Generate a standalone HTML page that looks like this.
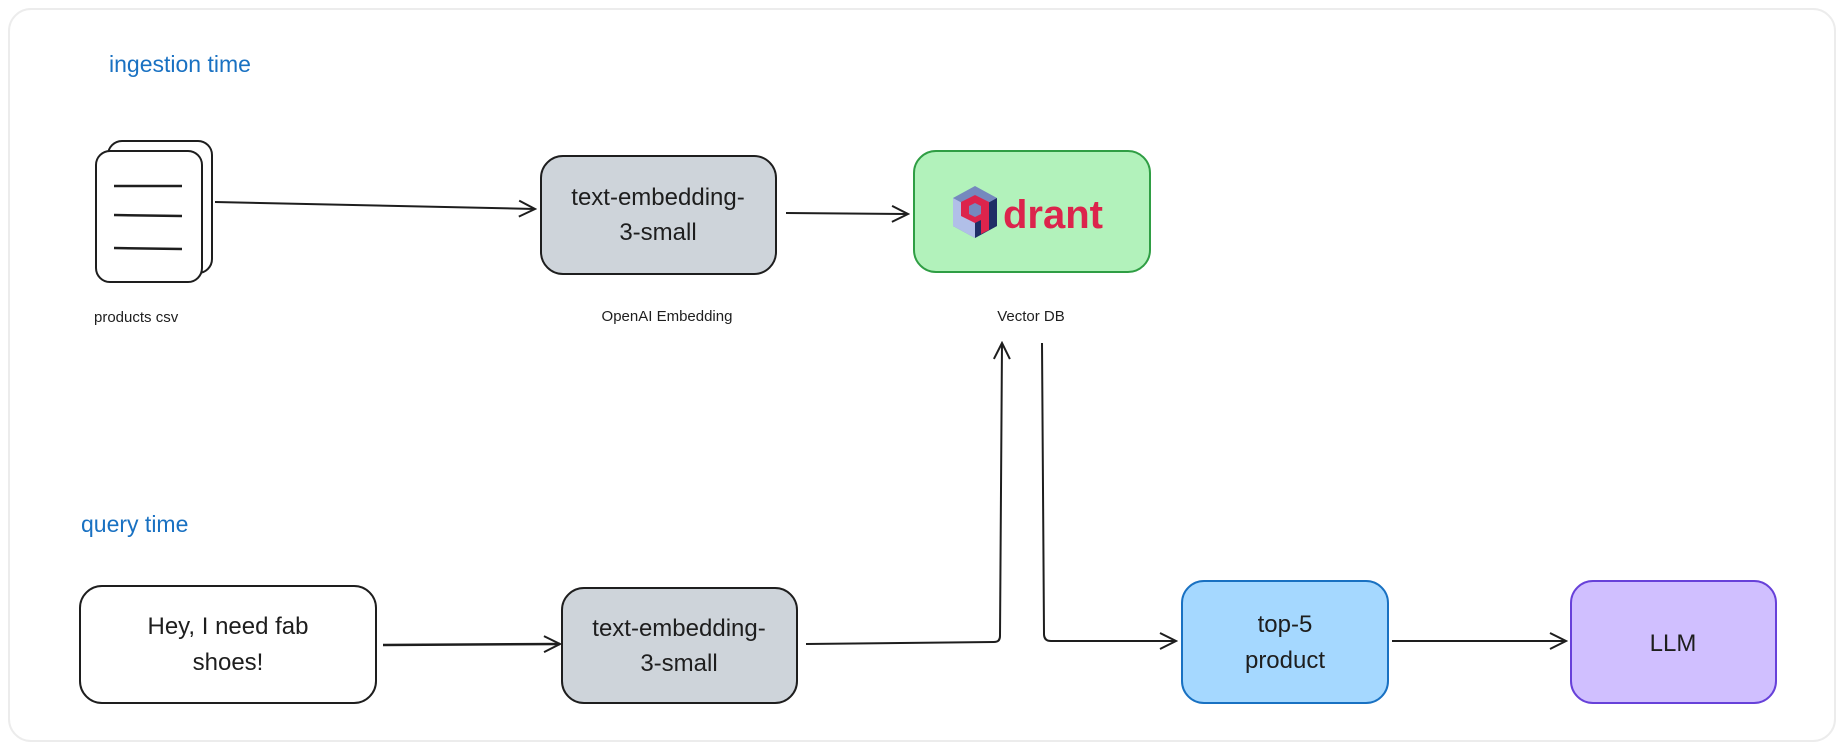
<!DOCTYPE html>
<html><head><meta charset="utf-8"><style>
html,body{margin:0;padding:0;background:#fff;}
svg{display:block;}
text{font-family:"Liberation Sans",sans-serif;}
</style></head><body>
<svg width="1844" height="750" viewBox="0 0 1844 750" xmlns="http://www.w3.org/2000/svg">
<defs>
<marker id="ah" markerWidth="20" markerHeight="20" refX="18" refY="10" orient="auto" markerUnits="userSpaceOnUse">
<path d="M2,2 L18,10 L2,18" fill="none" stroke="#1e1e1e" stroke-width="2"/>
</marker>
</defs>
<rect x="9" y="9" width="1826" height="732" rx="22" fill="#fff" stroke="#ececec" stroke-width="2"/>

<text x="109" y="72" font-size="23" fill="#1971c2">ingestion time</text>
<text x="81" y="532" font-size="23" fill="#1971c2">query time</text>

<!-- document icon -->
<rect x="108" y="141" width="104" height="132" rx="14" fill="#fff" stroke="#1e1e1e" stroke-width="2"/>
<rect x="96" y="151" width="106" height="131" rx="14" fill="#fff" stroke="#1e1e1e" stroke-width="2"/>
<line x1="114" y1="186" x2="182" y2="186" stroke="#1e1e1e" stroke-width="2.5"/>
<line x1="114" y1="215" x2="182" y2="216" stroke="#1e1e1e" stroke-width="2.5"/>
<line x1="114" y1="248" x2="182" y2="249" stroke="#1e1e1e" stroke-width="2.5"/>
<text x="94" y="322" font-size="15" fill="#1e1e1e">products csv</text>

<!-- arrows top -->
<line x1="215" y1="202" x2="535" y2="209" stroke="#1e1e1e" stroke-width="2" marker-end="url(#ah)"/>
<line x1="786" y1="213" x2="908" y2="214" stroke="#1e1e1e" stroke-width="2" marker-end="url(#ah)"/>

<!-- embedding 1 -->
<rect x="541" y="156" width="235" height="118" rx="22" fill="#ced4da" stroke="#1e1e1e" stroke-width="2"/>
<text x="658" y="205" font-size="24" fill="#1e1e1e" text-anchor="middle">text-embedding-</text>
<text x="658" y="240" font-size="24" fill="#1e1e1e" text-anchor="middle">3-small</text>
<text x="667" y="321" font-size="15" fill="#1e1e1e" text-anchor="middle">OpenAI Embedding</text>

<!-- qdrant -->
<rect x="914" y="151" width="236" height="121" rx="22" fill="#b2f2bb" stroke="#2f9e44" stroke-width="2"/>
<g transform="translate(953,186)">
<polygon points="22,0 44,12 44,40 22,52 0,40 0,12" fill="#7589be"/>
<polygon points="0,12 22,24 22,52 0,40" fill="#b1bfe8"/>
<polygon points="44,12 22,24 22,52 44,40" fill="#1f2e66"/>
<path d="M8,16 L22,9 L36,16 L36,44 L28,48 L28,34 L22,37 L8,30 Z" fill="#dc244c"/>
<polygon points="16,20 22,17 28,20 28,28 22,31 16,28" fill="#7589be"/>
</g>
<text x="1003" y="228" font-size="40" font-weight="bold" fill="#dc244c">drant</text>
<text x="1031" y="321" font-size="15" fill="#1e1e1e" text-anchor="middle">Vector DB</text>

<!-- hey box -->
<rect x="80" y="586" width="296" height="117" rx="22" fill="#fff" stroke="#1e1e1e" stroke-width="2"/>
<text x="228" y="634" font-size="24" fill="#1e1e1e" text-anchor="middle">Hey, I need fab</text>
<text x="228" y="670" font-size="24" fill="#1e1e1e" text-anchor="middle">shoes!</text>
<line x1="383" y1="645" x2="560" y2="644" stroke="#1e1e1e" stroke-width="2.5" marker-end="url(#ah)"/>

<!-- embedding 2 -->
<rect x="562" y="588" width="235" height="115" rx="22" fill="#ced4da" stroke="#1e1e1e" stroke-width="2"/>
<text x="679" y="636" font-size="24" fill="#1e1e1e" text-anchor="middle">text-embedding-</text>
<text x="679" y="671" font-size="24" fill="#1e1e1e" text-anchor="middle">3-small</text>

<path d="M806,644 L994,642 Q1000,642 1000,636 L1002,343" fill="none" stroke="#1e1e1e" stroke-width="2" marker-end="url(#ah)"/>
<path d="M1042,343 L1044,634 Q1044,641 1051,641 L1176,641" fill="none" stroke="#1e1e1e" stroke-width="2" marker-end="url(#ah)"/>

<!-- top-5 -->
<rect x="1182" y="581" width="206" height="122" rx="22" fill="#a5d8ff" stroke="#1971c2" stroke-width="2"/>
<text x="1285" y="632" font-size="24" fill="#1e1e1e" text-anchor="middle">top-5</text>
<text x="1285" y="668" font-size="24" fill="#1e1e1e" text-anchor="middle">product</text>
<line x1="1392" y1="641" x2="1566" y2="641" stroke="#1e1e1e" stroke-width="2" marker-end="url(#ah)"/>

<!-- LLM -->
<rect x="1571" y="581" width="205" height="122" rx="22" fill="#d0bfff" stroke="#6741d9" stroke-width="2"/>
<text x="1673" y="651" font-size="24" fill="#1e1e1e" text-anchor="middle">LLM</text>
</svg>
</body></html>
